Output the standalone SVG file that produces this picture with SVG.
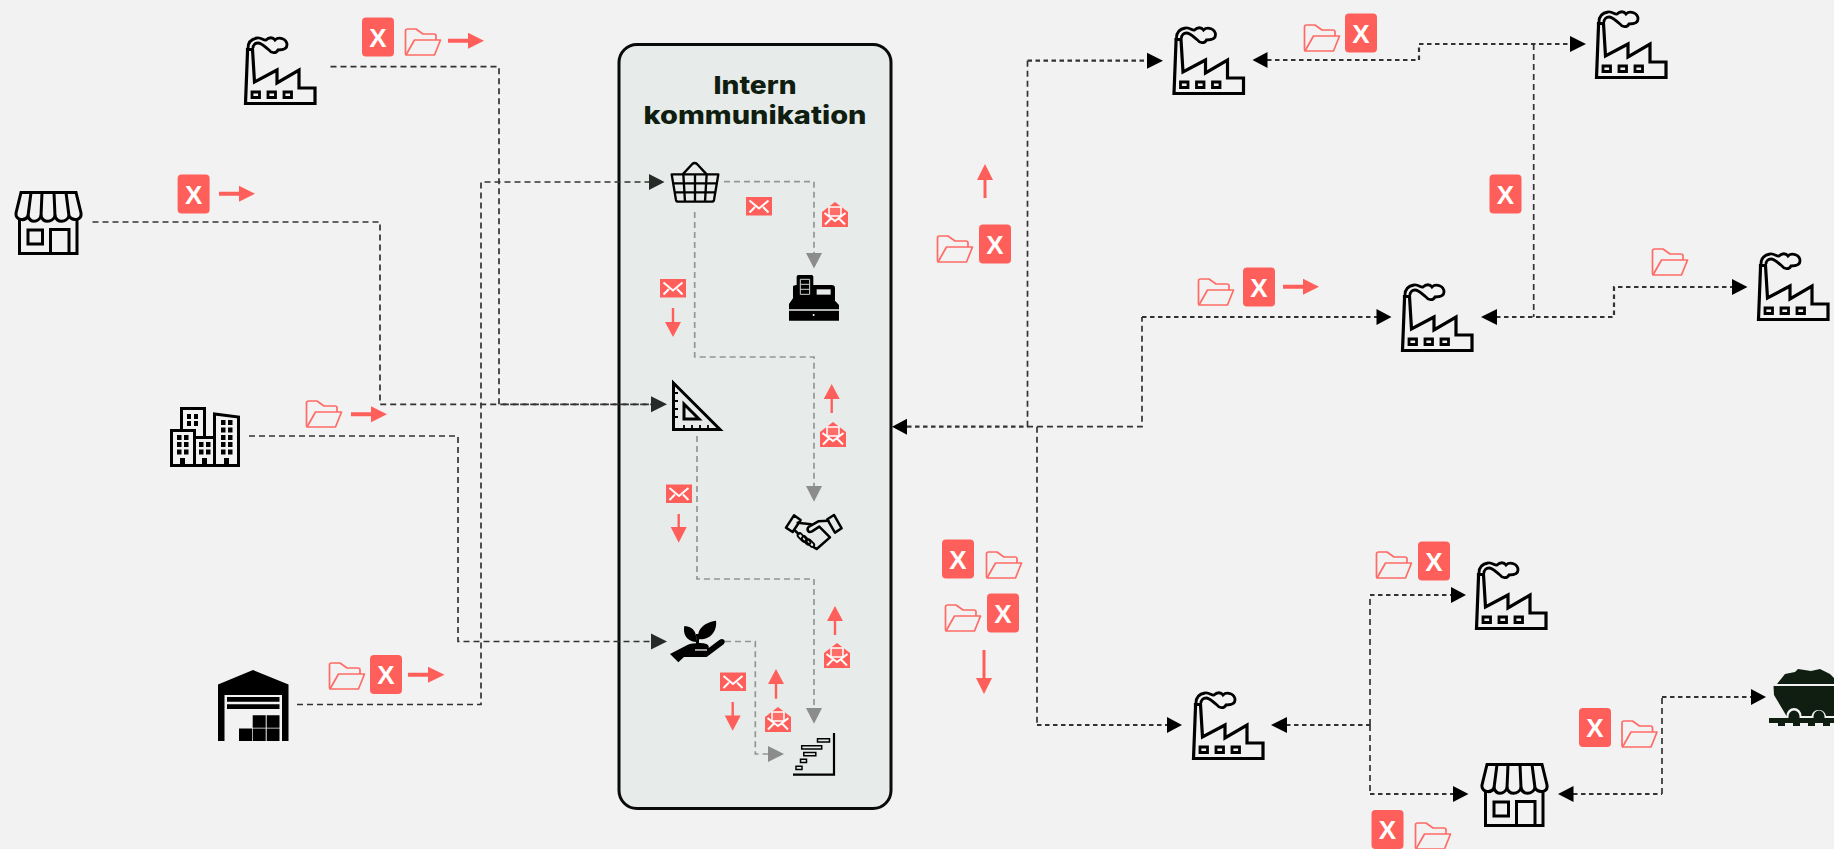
<svg xmlns="http://www.w3.org/2000/svg" xmlns:xlink="http://www.w3.org/1999/xlink" width="1834" height="849" viewBox="0 0 1834 849">
<style>
.wire{fill:none;stroke:#333;stroke-width:1.7;stroke-dasharray:6 4}
.wire2{fill:none;stroke:#333;stroke-width:2.2;stroke-dasharray:4.5 3.5}
.grey{fill:none;stroke:#959595;stroke-width:1.7;stroke-dasharray:6 4}
.head{fill:#000}.headd{fill:#262b28}.headg{fill:#8c8c8c}
.ic{fill:none;stroke:#000;stroke-width:3;stroke-linejoin:miter}
.red{fill:#ff5f5a}
.xt{font-family:"Liberation Sans",Arial,sans-serif;font-weight:700;font-size:26px;fill:#fff;text-anchor:middle}
.title{font-family:Inter,"Liberation Sans",sans-serif;font-weight:800;font-size:24.5px;fill:#0f1e10;text-anchor:middle}
.fold{fill:none;stroke:#ff6b66;stroke-width:1.7;stroke-linejoin:round}
</style>
<defs>
<g id="factory">
<path class="ic" style="stroke-width:3.200" d="M1.500 67.500 L3.500 16 V13.500 H8.500 L10.500 46 L33 34 V47 L55 34 V52 H71 V67.500 Z"/>
<path class="ic" style="stroke-width:2.800" d="M8 56h7.500v5.500h-7.500z M24 56h7.500v5.500h-7.500z M40 56h7.500v5.500h-7.500z"/>
<path class="ic" style="stroke-width:2.800" d="M4 12 C4 6 7 3 13 2 C17 1 20 5 22 4 C25 1 29 1 31 4 C35 0 43 3 43 9 C43 14 37 14 34 14 C32 18 27 17 25 14 C21 11 18 7 14 7 C11 7 9 9 9 12"/>
</g>
<g id="store">
<path class="ic" d="M4.500 28 V62.500 H62 V28"/>
<path class="ic" d="M6 1.500 H61 L66 22 C67 29 58 31 54 25 C51 32 42 32 40 25 C37 32 28 32 26 25 C23 32 15 32 13 25 C10 31 0 29 1 22 Z"/>
<path class="ic" d="M13 25 L16 1.500 M26 25 L27 1.500 M40 25 L39 1.500 M54 25 L51 1.500"/>
<rect class="ic" x="13" y="39" width="14.500" height="14"/>
<path class="ic" d="M35.500 62.500 V38.500 H54 V62.500"/>
</g>
<g id="folder">
<path class="fold" d="M1.500 26 V3 Q1.500 1 3.500 1 H12 L19 6 H30 Q32 6 32 8 V12"/>
<path class="fold" d="M2 27 L10.500 12 H36.500 L30.500 27 Z M1.500 26 L2 27"/>
</g>
<g id="xbox"><rect class="red" x="-16" y="-19.500" width="32" height="39" rx="4"/></g>
<g id="mail">
<rect class="red" width="26" height="18.500"/>
<path fill="none" stroke="#fff" stroke-width="2" d="M3.500 3.500 L13 11.500 L22.500 3.500 M3.500 15.500 L9 10 M22.500 15.500 L17 10"/>
</g>
<g id="mailo">
<path class="red" d="M0 10 L13 0 L26 10 V25 H0 Z"/>
<rect x="7" y="5" width="12" height="9" fill="#ff6f6a" stroke="#fff" stroke-width="1.500"/>
<path fill="none" stroke="#fff" stroke-width="2" d="M2.500 11 L13 19 L23.500 11 M3 22.500 L9 16.500 M23 22.500 L17 16.500"/>
</g>
</defs>
<rect width="1834" height="849" fill="#f2f2f2"/>
<g id="panel">
<rect x="619" y="44.500" width="272" height="764" rx="18" fill="#e7ecea" stroke="#0a0a0a" stroke-width="3"/>
<text class="title" x="755" y="93.500" textLength="83" lengthAdjust="spacingAndGlyphs">Intern</text>
<text class="title" x="755" y="123.500" textLength="223" lengthAdjust="spacingAndGlyphs">kommunikation</text>
</g>
<g id="connectors">
<path class="wire" d="M330.500 66.700 H499 V404.300 H652"/>
<path class="wire" d="M92.500 222 H380 V404.300 H652"/>
<path class="wire" d="M297 704.500 H481 V182 H650"/>
<path class="wire" d="M249 436 H458 V641.500 H652"/>
<path class="wire2" d="M907 426.700 H1027.500"/>
<path class="wire" d="M1027.500 426.700 V60.700"/>
<path class="wire2" d="M1027.500 60.700 H1148"/>
<path class="wire" d="M1027 426.700 H1142 V317"/>
<path class="wire2" d="M1142 317 H1377"/>
<path class="wire" d="M1037 426.700 V725"/>
<path class="wire2" d="M1037 725 H1168"/>
<path class="wire2" d="M1267 60 H1419 V44 H1571"/>
<path class="wire" d="M1533.700 44 V317"/>
<path class="wire2" d="M1496 317 H1614 V287 H1733"/>
<path class="wire2" d="M1286 725 H1370"/>
<path class="wire" d="M1370 725 V595"/>
<path class="wire2" d="M1370 595 H1452"/>
<path class="wire" d="M1370 725 V794"/>
<path class="wire2" d="M1370 794 H1454"/>
<path class="wire2" d="M1573 794 H1662"/>
<path class="wire" d="M1662 794 V697"/>
<path class="wire2" d="M1662 697 H1752"/>
<path class="grey" d="M724 181.700 H814 V253"/>
<path class="grey" d="M694.700 212 V357 H814 V486"/>
<path class="grey" d="M697 436 V579 H814 V708"/>
<path class="grey" d="M725 641.500 H755.300 V754 H769"/>
<g class="headd">
<path d="M649 174 L664.500 182 L649 190 Z"/>
<path d="M651 396.300 L667 404.300 L651 412.300 Z"/>
<path d="M651 633.500 L667 641.500 L651 649.500 Z"/>
</g>
<g class="headg">
<path d="M806 253 H822 L814 268.500 Z"/>
<path d="M806 486 H822 L814 501.700 Z"/>
<path d="M806 708 H822 L814 723.700 Z"/>
<path d="M768 746 L784 754 L768 762 Z"/>
</g>
<g class="head">
<path d="M907 418.700 V434.700 L892 426.700 Z"/>
<path d="M1147 52.700 L1163 60.700 L1147 68.700 Z"/>
<path d="M1376.500 309 L1391.500 317 L1376.500 325 Z"/>
<path d="M1167 717 L1182 725 L1167 733 Z"/>
<path d="M1267.500 52 V68 L1252.500 60 Z"/>
<path d="M1570 36 L1586 44 L1570 52 Z"/>
<path d="M1497 309 V325 L1481 317 Z"/>
<path d="M1732 279 L1747.500 287 L1732 295 Z"/>
<path d="M1287 717 V733 L1271 725 Z"/>
<path d="M1451 587 L1466 595 L1451 603 Z"/>
<path d="M1453 786 L1468.500 794 L1453 802 Z"/>
<path d="M1573.500 786 V802 L1558 794 Z"/>
<path d="M1751 689 L1766 697 L1751 705 Z"/>
</g>
</g>
<use id="factory-1" href="#factory" x="244" y="36"/>
<use id="factory-2" href="#factory" x="1172.500" y="26"/>
<use id="factory-3" href="#factory" x="1595" y="10"/>
<use id="factory-4" href="#factory" x="1401" y="283"/>
<use id="factory-5" href="#factory" x="1757" y="252"/>
<use id="factory-6" href="#factory" x="1192" y="691"/>
<use id="factory-7" href="#factory" x="1475" y="561"/>
<use id="store-1" href="#store" x="15" y="191"/>
<use id="store-2" href="#store" x="1481" y="763"/>
<g id="buildings">
<path class="ic" d="M171.500 465.500 V430.500 H194.500 V465.500 Z M194.500 465.500 V437.500 H214.500 V465.500 Z M214.500 465.500 V414 L238.500 417 V465.500 Z"/>
<path class="ic" d="M181.500 430 V408.500 H204.500 V437"/>
<g fill="#000">
<path d="M187 414h4v5h-4z M194 414h4v5h-4z M187 421h4v5h-4z M194 421h4v5h-4z"/>
<path d="M177 435h4.500v5h-4.500z M184 435h4.500v5h-4.500z M177 442h4.500v5h-4.500z M184 442h4.500v5h-4.500z M177 449.500h4.500v5h-4.500z M184 449.500h4.500v5h-4.500z"/>
<path d="M199 442h4.500v5h-4.500z M206 442h4.500v5h-4.500z M199 449.500h4.500v5h-4.500z M206 449.500h4.500v5h-4.500z"/>
<path d="M221 420h4.500v5h-4.500z M228 420h4.500v5h-4.500z M221 427.500h4.500v5h-4.500z M228 427.500h4.500v5h-4.500z M221 435h4.500v5h-4.500z M228 435h4.500v5h-4.500z M221 442h4.500v5h-4.500z M228 442h4.500v5h-4.500z M221 449.500h4.500v5h-4.500z M228 449.500h4.500v5h-4.500z"/>
<path d="M180 458h5v7h-5z M202 458h5v7h-5z M224 458h5v7h-5z"/>
</g>
</g>
<g id="warehouse">
<path fill="#000" d="M218 684.500 L253 670 L288.500 684.500 V741 H282 V695 H224.500 V741 H218 Z"/>
<path fill="#000" d="M227 697h52.500v4.700h-52.500z M227 704.300h52.500v4.700h-52.500z M252.700 715.300h13v12.400h-13z M266.700 715.300h12.800v12.400h-12.800z M239 728.500h13v12.500h-13z M252.700 728.500h13v12.500h-13z M266.700 728.500h12.800v12.500h-12.800z"/>
</g>
<g id="basket" transform="translate(660 150) scale(.3333)" fill="none" stroke="#000" stroke-width="7" stroke-linejoin="round">
<path d="M35 73 H175 L162 150 Q161 155 155 155 H55 Q49 155 48 150 Z"/>
<path d="M70 73 L75 155 M105 73 V155 M140 73 L135 155 M38 100 H172 M43 127 H167"/>
<path d="M68 73 L97 42 Q104 36 111 42 L140 73"/>
</g>
<g id="register" transform="translate(660 150) scale(.3333)">
<path fill="#000" d="M387 512 V462 L399 445 V410 Q399 405 410 405 V380 Q410 375 415 375 H455 Q460 375 460 380 V405 H515 Q525 405 525 415 V452 L537 465 V512 Z"/>
<path fill="#e7ecea" opacity=".75" d="M387 477h150v6h-150z"/>
<path fill="#e7ecea" d="M470 418h42v16h-42z"/>
<path fill="none" stroke="#cfd4d2" stroke-width="3" d="M421 388h28v45h-28z M421 403h28 M421 418h28"/>
<circle cx="461" cy="495" r="3" fill="#fff"/>
</g>
<g id="ruler" fill="none" stroke="#000">
<path stroke-width="3" d="M673.500 383 V429.500 H720 Z"/>
<path stroke-width="3" d="M684 404 V419 H699 Z"/>
<path stroke-width="1.800" d="M675 393h3 M675 401h3 M675 409h3 M675 417h3 M684 428v-3 M692 428v-3 M700 428v-3 M708 428v-3"/>
</g>
<g id="handshake" transform="translate(610 430) scale(.3333)" fill="none" stroke="#000" stroke-width="7.500" stroke-linejoin="round" stroke-linecap="round">
<path d="M528 293 L552 256 L572 270 L548 306 Z M652 268 L672 255 L695 295 L675 308 Z"/>
<path d="M563 278 L603 283 M655 272 L625 274 L597 290 C588 298 595 310 606 304 L628 290 L660 322 M553 300 L566 312 M660 322 L620 357 L612 352"/>
<rect x="561" y="316" width="30" height="13" rx="6" stroke-width="5.500" transform="rotate(45 576 322)"/>
<rect x="574" y="325" width="30" height="13" rx="6" stroke-width="5.500" transform="rotate(45 589 331)"/>
<rect x="588" y="333" width="27" height="12" rx="6" stroke-width="5.500" transform="rotate(45 601 339)"/>
</g>
<g id="plant" transform="translate(610 430) scale(.3333)">
<path fill="#000" d="M180 672 L232 645 C250 638 290 636 296 648 L296 656 L288 660 L328 630 C340 622 350 634 341 643 L290 681 L222 681 L205 697 Z"/>
<path fill="#e7ecea" d="M255 658h36v4h-36z"/>
<path fill="#000" d="M258 636 C262 610 252 590 223 588 C218 612 230 634 258 636 Z M266 628 C258 595 288 576 318 572 C322 600 304 630 266 628 Z M258 612h9v34h-9z"/>
</g>
<g id="gantt" fill="none" stroke="#000">
<path stroke-width="2.200" d="M834 733 V774.700 H793"/>
<path stroke-width="1.500" d="M817.500 738.800h12v3.200h-12z M801.700 745.800h20v3.200h-20z M803.800 752.500h12v3.200h-12z M800.500 759.200h6v3.200h-6z M796 766.200h6v3.200h-6z"/>
</g>
<g id="coal" fill="#0f1e10">
<path d="M1777 684 L1785 674 L1795 672 L1798 669 L1811 671 L1820 669 L1830 674 L1834 678 V684 Z"/>
<path d="M1773.500 686 H1834 V716 H1826 A7.500 8 0 0 0 1811.500 716 H1801.500 A7.500 8 0 0 0 1786.500 716 L1774 695 Z"/>
<path d="M1769 718 H1834 V723 H1830 V726 H1823 V723 H1815 V726 H1808 V723 H1800 V726 H1793 V723 H1785 V726 H1778 V723 H1769 Z"/>
<path d="M1788.500 718 V716.500 A5.500 6 0 0 1 1799.500 716.500 V718 Z M1813.500 718 V716.500 A5.500 6 0 0 1 1824.500 716.500 V718 Z"/>
</g>
<g id="badges">
<g><use href="#xbox" x="378" y="37"/><text class="xt" x="378" y="46.500">X</text></g>
<g><use href="#xbox" x="193.600" y="194"/><text class="xt" x="193.600" y="203.500">X</text></g>
<g><use href="#xbox" x="386" y="674.500"/><text class="xt" x="386" y="684">X</text></g>
<g><use href="#xbox" x="1361" y="33"/><text class="xt" x="1361" y="42.500">X</text></g>
<g><use href="#xbox" x="995" y="244"/><text class="xt" x="995" y="253.500">X</text></g>
<g><use href="#xbox" x="1259" y="287"/><text class="xt" x="1259" y="296.500">X</text></g>
<g><use href="#xbox" x="1505.500" y="194"/><text class="xt" x="1505.500" y="203.500">X</text></g>
<g><use href="#xbox" x="958" y="559"/><text class="xt" x="958" y="568.500">X</text></g>
<g><use href="#xbox" x="1003" y="613"/><text class="xt" x="1003" y="622.500">X</text></g>
<g><use href="#xbox" x="1434" y="561"/><text class="xt" x="1434" y="570.500">X</text></g>
<g><use href="#xbox" x="1595" y="727.500"/><text class="xt" x="1595" y="737">X</text></g>
<g><use href="#xbox" x="1387.500" y="829.500"/><text class="xt" x="1387.500" y="839">X</text></g>
</g>
<g id="folders">
<use href="#folder" x="404" y="28"/>
<use href="#folder" x="305" y="400"/>
<use href="#folder" x="328" y="662"/>
<use href="#folder" x="1303" y="24"/>
<use href="#folder" x="936" y="235"/>
<use href="#folder" x="1197" y="278"/>
<use href="#folder" x="1651" y="248"/>
<use href="#folder" x="985" y="551"/>
<use href="#folder" x="944" y="604"/>
<use href="#folder" x="1375" y="551"/>
<use href="#folder" x="1620.500" y="720"/>
<use href="#folder" x="1414" y="822"/>
</g>
<g id="red-arrows" class="red">
<path d="M448 38.700 H468 V32.700 L484 40.700 L468 48.700 V42.700 H448 Z"/>
<path d="M219 191.700 H239 V185.700 L255 193.700 L239 201.700 V195.700 H219 Z"/>
<path d="M351 412.300 H371 V406.300 L387 414.300 L371 422.300 V416.300 H351 Z"/>
<path d="M408 672.700 H428 V666.700 L444.500 674.700 L428 682.700 V676.700 H408 Z"/>
<path d="M1283 284.700 H1303 V278.700 L1319 286.700 L1303 294.700 V288.700 H1283 Z"/>
<path d="M983.500 198 V180 H977 L985 164 L993 180 H986.500 V198 Z"/>
<path d="M982.500 650 V678 H976 L984 694 L992 678 H985.500 V650 Z"/>
<path d="M671.800 308 V322 H665 L673 337 L681 322 H674.200 V308 Z"/>
<path d="M830.500 413 V399 H823.700 L831.700 384 L839.700 399 H832.900 V413 Z"/>
<path d="M677.500 514 V527 H670.700 L678.700 542.700 L686.700 527 H679.900 V514 Z"/>
<path d="M833.800 635 V621 H827 L835 606 L843 621 H836.200 V635 Z"/>
<path d="M774.800 698.700 V684 H768 L776 669 L784 684 H777.200 V698.700 Z"/>
<path d="M731.500 702 V715.500 H724.700 L732.700 730.700 L740.700 715.500 H733.900 V702 Z"/>
</g>
<g id="mails">
<use href="#mail" x="746" y="197"/>
<use href="#mail" x="660" y="279"/>
<use href="#mail" x="666" y="484.500"/>
<use href="#mail" x="720" y="672.500"/>
<use href="#mailo" x="822" y="202"/>
<use href="#mailo" x="820" y="422"/>
<use href="#mailo" x="824" y="643"/>
<use href="#mailo" x="765" y="707"/>
</g>
</svg>
